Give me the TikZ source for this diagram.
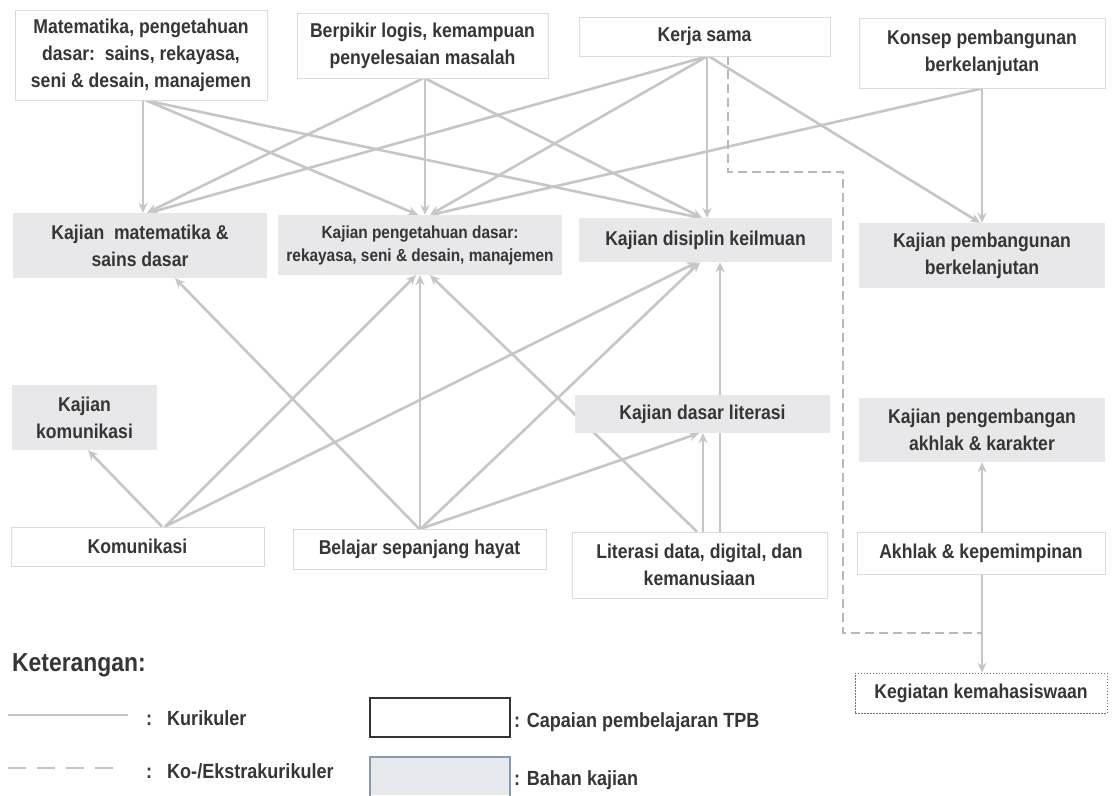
\documentclass[tikz,border=0pt]{standalone}
\usepackage{fontspec}
\setmainfont{Liberation Sans}[FakeStretch=0.88]
\usetikzlibrary{arrows.meta,calc,backgrounds}
\definecolor{txt}{HTML}{363636}
\definecolor{ln}{HTML}{C6C6C6}
\definecolor{dln}{HTML}{B8B8B8}
\definecolor{kfill}{HTML}{E8E8EA}
\definecolor{wborder}{HTML}{DADADA}
\definecolor{lfill}{HTML}{E6E9EE}
\definecolor{lborder}{HTML}{8A9AAE}
\begin{document}
\begin{tikzpicture}[x=1pt,y=-1pt,
  base/.style={font=\fontsize{20}{27}\selectfont\bfseries, text=txt, align=center, inner sep=0pt},
  small/.style={font=\fontsize{17.5}{23}\selectfont\bfseries},
  wbox/.style={base, draw=wborder, line width=0.8pt, fill=white},
  kbox/.style={base, fill=kfill},
  dbox/.style={base, fill=white, draw=black!55, line width=0.8pt, dash pattern=on 1.5pt off 1.5pt},
  arr/.style={draw=ln, line width=2.6pt, -{Stealth[length=10pt,width=9pt]}},
  dsh/.style={draw=dln, line width=2.2pt, dash pattern=on 9pt off 5pt},
  lab/.style={font=\fontsize{20.5}{24}\selectfont\bfseries, text=txt, inner sep=0pt, anchor=base west},
]
\useasboundingbox (0,0) rectangle (1113,795);

% top row (capaian)
\node[wbox, minimum width=252pt, minimum height=90pt] (A) at (141,55) {Matematika, pengetahuan\\dasar:\ \ sains, rekayasa,\\seni \& desain, manajemen};
\node[wbox, minimum width=251pt, minimum height=65pt] (B) at (422.5,45.5) {Berpikir logis, kemampuan\\penyelesaian masalah};
\node[wbox, minimum width=251pt, minimum height=39pt] (C) at (704.5,36.5) {Kerja sama};
\node[wbox, minimum width=246pt, minimum height=70pt] (D) at (982,53) {Konsep pembangunan\\berkelanjutan};

% second row (kajian)
\node[kbox, minimum width=254pt, minimum height=65pt] (E) at (140,245.5) {Kajian\ \ matematika \&\\sains dasar};
\node[kbox, small, minimum width=284pt, minimum height=60pt] (F) at (420,245) {Kajian pengetahuan dasar:\\rekayasa, seni \& desain, manajemen};
\node[kbox, minimum width=253pt, minimum height=44pt] (G) at (705.5,240) {Kajian disiplin keilmuan};
\node[kbox, minimum width=246pt, minimum height=65pt] (H) at (982,255.5) {Kajian pembangunan\\berkelanjutan};

% third row
\node[kbox, minimum width=145pt, minimum height=65pt] (I) at (84.5,417.5) {Kajian\\komunikasi};
\node[kbox, minimum width=255pt, minimum height=38pt] (J) at (702.5,414) {Kajian dasar literasi};
\node[kbox, minimum width=246pt, minimum height=64pt] (K) at (982,430) {Kajian pengembangan\\akhlak \& karakter};

% fourth row
\node[wbox, minimum width=253pt, minimum height=39pt] (L) at (137.5,546.5) {Komunikasi};
\node[wbox, minimum width=253pt, minimum height=40pt] (M) at (419.5,549) {Belajar sepanjang hayat};
\node[wbox, minimum width=255pt, minimum height=66pt] (N) at (699.5,565) {Literasi data, digital, dan\\kemanusiaan};
\node[wbox, minimum width=248pt, minimum height=42pt] (O) at (981,553) {Akhlak \& kepemimpinan};
\node[dbox, minimum width=252pt, minimum height=40pt] (P) at (981,693) {Kegiatan kemahasiswaan};

\coordinate (dj) at (982,633);

\begin{scope}[on background layer]
\fill[white] (0,0) rectangle (1113,795);
% downward from top row
\draw[arr] ([xshift=2pt]A.south) -- ([xshift=3pt]E.north);
\draw[arr] ([xshift=5pt]A.south) -- ([xshift=-2pt]F.north);
\draw[arr] ([xshift=5pt]A.south) -- ([xshift=-5.5pt]G.north);
\draw[arr] ([xshift=0.5pt]B.south) -- ([xshift=7pt]E.north);
\draw[arr] ([xshift=2.5pt]B.south) -- ([xshift=5pt]F.north);
\draw[arr] ([xshift=2.5pt]B.south) -- ([xshift=-3.5pt]G.north);
\draw[arr] ([xshift=2.5pt]C.south) -- ([xshift=9pt]E.north);
\draw[arr] ([xshift=2.5pt]C.south) -- ([xshift=10pt]F.north);
\draw[arr] ([xshift=2.5pt]C.south) -- ([xshift=1.5pt]G.north);
\draw[arr] ([xshift=4.5pt]C.south) -- ([xshift=-2pt]H.north);
\draw[arr] (D.south) -- ([xshift=11pt]F.north);
\draw[arr] (D.south) -- (H.north);
% upward from bottom row
\draw[arr] ([xshift=24.5pt]L.north) -- ([xshift=3.5pt]I.south);
\draw[arr] ([xshift=27.5pt]L.north) -- ([xshift=-4pt]F.south);
\draw[arr] ([xshift=27.5pt]L.north) -- ([xshift=-8.5pt]G.south);
\draw[arr] ([xshift=-0.5pt]M.north) -- ([xshift=35pt]E.south);
\draw[arr] ([xshift=0.5pt]M.north) -- ([xshift=0pt]F.south);
\draw[arr] ([xshift=1.5pt]M.north) -- ([xshift=-5.5pt]G.south);
\draw[arr] ([xshift=1.5pt]M.north) -- ([xshift=-3.5pt]J.south);
\draw[arr] ([xshift=-2.5pt]N.north) -- ([xshift=10pt]F.south);
\draw[arr] ([xshift=3.5pt]N.north) -- ([xshift=0.5pt]J.south);
\draw[arr] ([xshift=20.5pt]N.north) -- ([xshift=14.5pt]G.south);
\draw[arr] ([xshift=1pt]O.north) -- (K.south);
\draw[arr] ([xshift=1pt]O.south) -- ([xshift=1pt]P.north);
% co-/extracurricular
\draw[dsh] ([xshift=23.5pt]C.south) |- (843,172) -- (843,633) -- (dj);
\end{scope}

% legend
\node[lab, font=\fontsize{26}{30}\selectfont\bfseries] (ket) at (12,671) {Keterangan:};
\coordinate (s1) at (8,715);
\coordinate (s2) at (128,715);
\draw[draw=ln, line width=2pt] (s1) -- (s2);
\node[lab] (c1) at (146,725) {:};
\node[lab] (t1) at (167,725) {Kurikuler};
\coordinate (d1) at (8,768);
\coordinate (d2) at (117,768);
\draw[draw=ln, line width=2pt, dash pattern=on 18pt off 11pt] (d1) -- (d2);
\node[lab] (c2) at (146,778) {:};
\node[lab] (t2) at (167,778) {Ko-/Ekstrakurikuler};
\node[draw=black!80, line width=1.5pt, fill=white, minimum width=140pt, minimum height=39pt, inner sep=0pt] (lb1) at (440,717.5) {};
\node[lab] (t3) at (514,727) {: Capaian pembelajaran TPB};
\fill[lfill] (370,757) rectangle (510,795);
\draw[draw=lborder, line width=1.5pt] (370,796) -- (370,757) -- (510,757) -- (510,796);
\coordinate (lb2) at (440,776);
\node[lab] (t4) at (514,785) {: Bahan kajian};
\end{tikzpicture}
\end{document}
